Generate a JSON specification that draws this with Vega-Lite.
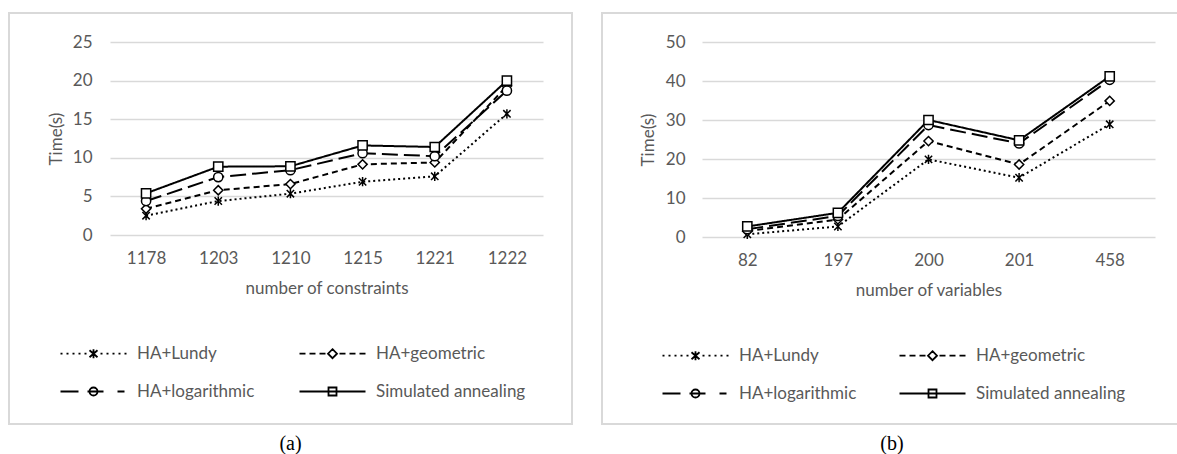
{
  "$schema": "https://vega.github.io/schema/vega-lite/v6.json",
  "padding": {"left": 8, "top": 12, "right": 0, "bottom": 0},
  "spacing": 28,
  "background": "white",
  "resolve": {"scale": {"strokeDash": "independent", "shape": "independent"}, "legend": {"strokeDash": "independent", "shape": "independent"}},
  "config": {
    "view": {"stroke": "#d9d9d9", "strokeWidth": 2},
    "font": "Lato",
    "axis": {"labelFont": "Lato", "labelFontSize": 17, "labelColor": "#595959", "titleFont": "Lato", "titleFontSize": 17, "titleFontWeight": "normal", "titleColor": "#595959", "domain": false, "ticks": false, "gridColor": "#d9d9d9", "gridWidth": 1.5},
    "legend": {"labelFont": "Lato", "labelFontSize": 17, "labelColor": "#595959", "title": null, "direction": "horizontal"}
  },
  "hconcat": [
    {
      "width": 563,
      "height": 411,
      "title": {"text": "(a)", "orient": "bottom", "anchor": "middle", "frame": "group", "font": "Liberation Serif", "fontSize": 20, "fontWeight": "normal", "color": "black", "offset": 10},
      "data": {"values": [
        {"constraints": 1178, "method": "HA+Lundy", "time": 2.5},
        {"constraints": 1203, "method": "HA+Lundy", "time": 4.4},
        {"constraints": 1210, "method": "HA+Lundy", "time": 5.35},
        {"constraints": 1215, "method": "HA+Lundy", "time": 6.9},
        {"constraints": 1221, "method": "HA+Lundy", "time": 7.6},
        {"constraints": 1222, "method": "HA+Lundy", "time": 15.7},
        {"constraints": 1178, "method": "HA+geometric", "time": 3.4},
        {"constraints": 1203, "method": "HA+geometric", "time": 5.8},
        {"constraints": 1210, "method": "HA+geometric", "time": 6.6},
        {"constraints": 1215, "method": "HA+geometric", "time": 9.15},
        {"constraints": 1221, "method": "HA+geometric", "time": 9.4},
        {"constraints": 1222, "method": "HA+geometric", "time": 19.3},
        {"constraints": 1178, "method": "HA+logarithmic", "time": 4.4},
        {"constraints": 1203, "method": "HA+logarithmic", "time": 7.5},
        {"constraints": 1210, "method": "HA+logarithmic", "time": 8.4},
        {"constraints": 1215, "method": "HA+logarithmic", "time": 10.6},
        {"constraints": 1221, "method": "HA+logarithmic", "time": 10.2},
        {"constraints": 1222, "method": "HA+logarithmic", "time": 18.7},
        {"constraints": 1178, "method": "Simulated annealing", "time": 5.4},
        {"constraints": 1203, "method": "Simulated annealing", "time": 8.85},
        {"constraints": 1210, "method": "Simulated annealing", "time": 8.9},
        {"constraints": 1215, "method": "Simulated annealing", "time": 11.6},
        {"constraints": 1221, "method": "Simulated annealing", "time": 11.4},
        {"constraints": 1222, "method": "Simulated annealing", "time": 20.0}
      ]},
      "encoding": {
        "x": {"field": "constraints", "type": "ordinal", "scale": {"type": "point", "range": [101, 534], "padding": 0.5}, "axis": {"title": "number of constraints", "grid": false, "labelAngle": 0, "offset": -174, "labelPadding": 0, "titleY": 38, "titleBaseline": "middle"}},
        "y": {"field": "time", "type": "quantitative", "scale": {"domain": [0, 25], "range": [222, 29], "nice": false}, "axis": {"title": "Time(s)", "values": [0, 5, 10, 15, 20, 25], "offset": -85, "labelPadding": 2, "titleX": -38, "titleBaseline": "middle"}}
      },
      "resolve": {"scale": {"shape": "independent"}, "legend": {"shape": "independent"}},
      "layer": [
        {
          "mark": {"type": "line", "strokeWidth": 2, "color": "black"},
          "encoding": {
            "strokeDash": {"field": "method", "type": "nominal", "scale": {"range": [[2, 3], [6, 4], [16, 6], [1, 0]]}, "legend": null}
          }
        },
        {
          "mark": {"type": "point", "filled": true, "fill": "white", "stroke": "black", "strokeWidth": 1.5, "size": 85, "opacity": 1},
          "encoding": {
            "shape": {"field": "method", "type": "nominal", "scale": {"domain": ["HA+Lundy", "HA+geometric", "HA+logarithmic", "Simulated annealing"], "range": ["M0,-1L0,1M-0.8,-0.8L0.8,0.8M-0.8,0.8L0.8,-0.8", "diamond", "circle", "square"]}, "legend": null}
          }
        },
        {
          "mark": {"type": "point", "filled": false, "stroke": "black", "size": 4, "opacity": 0},
          "encoding": {
            "shape": {"field": "method", "type": "nominal", "scale": {"domain": ["HA+Lundy", "HA+geometric", "HA+logarithmic", "Simulated annealing"], "range": [
              "M-33,0h2M-27,0h2M-21,0h2M-15,0h2M-9,0h2M7,0h2M13,0h2M19,0h2M25,0h2M31,0h2M0,-4.5V4.5M-4,-3.5L4,3.5M-4,3.5L4,-3.5",
              "M-33,0h6M-23,0h6M-13,0h6M7,0h6M17,0h6M27,0h6M0,-4.5L4.5,0L0,4.5L-4.5,0Z",
              "M-4,0A4,4 0 1,0 4,0A4,4 0 1,0 -4,0ZM-33,0H-15M-6,0H10M24,0H31",
              "M-4,-4H4V4H-4ZM-33,0H33"
            ]}, "legend": {"orient": "none", "legendX": 76, "legendY": 332, "columns": 2, "symbolSize": 4, "symbolOpacity": 1, "symbolFillColor": "white", "symbolStrokeColor": "black", "symbolStrokeWidth": 1.8, "labelOffset": 35, "columnPadding": 40, "rowPadding": 20}}
          }
        }
      ]
    },
    {
      "width": 580,
      "height": 411,
      "title": {"text": "(b)", "orient": "bottom", "anchor": "middle", "frame": "group", "font": "Liberation Serif", "fontSize": 20, "fontWeight": "normal", "color": "black", "offset": 10},
      "data": {"values": [
        {"variables": 82, "method": "HA+Lundy", "time": 0.7},
        {"variables": 197, "method": "HA+Lundy", "time": 2.7},
        {"variables": 200, "method": "HA+Lundy", "time": 19.9},
        {"variables": 201, "method": "HA+Lundy", "time": 15.2},
        {"variables": 458, "method": "HA+Lundy", "time": 28.9},
        {"variables": 82, "method": "HA+geometric", "time": 1.5},
        {"variables": 197, "method": "HA+geometric", "time": 4.5},
        {"variables": 200, "method": "HA+geometric", "time": 24.6},
        {"variables": 201, "method": "HA+geometric", "time": 18.6},
        {"variables": 458, "method": "HA+geometric", "time": 34.9},
        {"variables": 82, "method": "HA+logarithmic", "time": 2.0},
        {"variables": 197, "method": "HA+logarithmic", "time": 5.4},
        {"variables": 200, "method": "HA+logarithmic", "time": 28.7},
        {"variables": 201, "method": "HA+logarithmic", "time": 24.0},
        {"variables": 458, "method": "HA+logarithmic", "time": 40.3},
        {"variables": 82, "method": "Simulated annealing", "time": 2.7},
        {"variables": 197, "method": "Simulated annealing", "time": 6.2},
        {"variables": 200, "method": "Simulated annealing", "time": 30.0},
        {"variables": 201, "method": "Simulated annealing", "time": 24.8},
        {"variables": 458, "method": "Simulated annealing", "time": 41.2}
      ]},
      "encoding": {
        "x": {"field": "variables", "type": "ordinal", "scale": {"type": "point", "range": [100, 553], "padding": 0.5}, "axis": {"title": "number of variables", "grid": false, "labelAngle": 0, "offset": -172, "labelPadding": 0, "titleY": 38, "titleBaseline": "middle"}},
        "y": {"field": "time", "type": "quantitative", "scale": {"domain": [0, 50], "range": [224, 29], "nice": false}, "axis": {"title": "Time(s)", "values": [0, 10, 20, 30, 40, 50], "offset": -85, "labelPadding": 2, "titleX": -39, "titleBaseline": "middle"}}
      },
      "resolve": {"scale": {"shape": "independent"}, "legend": {"shape": "independent"}},
      "layer": [
        {
          "mark": {"type": "line", "strokeWidth": 2, "color": "black"},
          "encoding": {
            "strokeDash": {"field": "method", "type": "nominal", "scale": {"range": [[2, 3], [6, 4], [16, 6], [1, 0]]}, "legend": null}
          }
        },
        {
          "mark": {"type": "point", "filled": true, "fill": "white", "stroke": "black", "strokeWidth": 1.5, "size": 85, "opacity": 1},
          "encoding": {
            "shape": {"field": "method", "type": "nominal", "scale": {"domain": ["HA+Lundy", "HA+geometric", "HA+logarithmic", "Simulated annealing"], "range": ["M0,-1L0,1M-0.8,-0.8L0.8,0.8M-0.8,0.8L0.8,-0.8", "diamond", "circle", "square"]}, "legend": null}
          }
        },
        {
          "mark": {"type": "point", "filled": false, "stroke": "black", "size": 4, "opacity": 0},
          "encoding": {
            "shape": {"field": "method", "type": "nominal", "scale": {"domain": ["HA+Lundy", "HA+geometric", "HA+logarithmic", "Simulated annealing"], "range": [
              "M-33,0h2M-27,0h2M-21,0h2M-15,0h2M-9,0h2M7,0h2M13,0h2M19,0h2M25,0h2M31,0h2M0,-4.5V4.5M-4,-3.5L4,3.5M-4,3.5L4,-3.5",
              "M-33,0h6M-23,0h6M-13,0h6M7,0h6M17,0h6M27,0h6M0,-4.5L4.5,0L0,4.5L-4.5,0Z",
              "M-4,0A4,4 0 1,0 4,0A4,4 0 1,0 -4,0ZM-33,0H-15M-6,0H10M24,0H31",
              "M-4,-4H4V4H-4ZM-33,0H33"
            ]}, "legend": {"orient": "none", "legendX": 85, "legendY": 334, "columns": 2, "symbolSize": 4, "symbolOpacity": 1, "symbolFillColor": "white", "symbolStrokeColor": "black", "symbolStrokeWidth": 1.8, "labelOffset": 35, "columnPadding": 38, "rowPadding": 20}}
          }
        }
      ]
    }
  ]
}
